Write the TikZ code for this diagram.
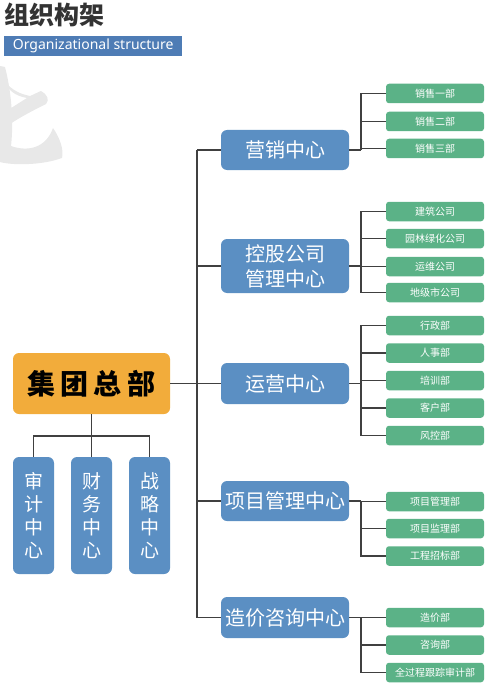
\documentclass[tikz,border=0pt]{standalone}
\usepackage{fontspec}
\setmainfont{Noto Sans CJK SC}
\newfontfamily\latinfont{Noto Sans}
\definecolor{hqorange}{HTML}{F2AC3B}
\definecolor{cblue}{HTML}{5B8FC3}
\definecolor{dgreen}{HTML}{5BB287}
\definecolor{titlegray}{HTML}{333333}
\definecolor{subblue}{HTML}{4E7CB5}
\definecolor{linegray}{HTML}{404040}
\definecolor{wmgray}{HTML}{E8E8E8}
\begin{document}
\begin{tikzpicture}[x=1pt,y=-1pt,
  centerbox/.style={fill=cblue, rounded corners=6pt, text=white, minimum width=128pt, inner sep=0pt, align=center, font=\fontsize{20}{25}\selectfont},
  subbox/.style={fill=dgreen, rounded corners=3pt, text=white, minimum width=98pt, minimum height=19.5pt, inner sep=0pt, font=\fontsize{10}{12}\selectfont},
  vbox/.style={fill=cblue, rounded corners=6pt, text=white, minimum width=41pt, minimum height=117pt, inner sep=0pt, align=center, font=\fontsize{19}{23}\selectfont},
  conn/.style={draw=linegray, line width=1.2pt}
]
\useasboundingbox (0,0) rectangle (493,687);
% watermark brush strokes
\fill[wmgray] (0,66) -- (5,67) .. controls (11,90) and (14,120) .. (11,146)
  .. controls (28,152) and (46,148) .. (53,128)
  .. controls (60,138) and (64,150) .. (62,158)
  .. controls (40,166) and (10,165) .. (0,162) -- cycle;
\fill[wmgray] (5,82) .. controls (12,90) and (20,94) .. (30,96)
  .. controls (35,94) and (38,92) .. (41,91)
  .. controls (47,94) and (50,100) .. (46,104)
  .. controls (30,112) and (15,120) .. (6,127)
  .. controls (4,120) and (4,114) .. (8,110)
  .. controls (16,105) and (22,101) .. (27,98)
  .. controls (15,96) and (8,90) .. (5,82) -- cycle;
% title
\node[anchor=west, inner sep=0pt, text=titlegray, font=\fontsize{25}{28}\selectfont\bfseries] (title) at (4,15) {组织构架};
\node[anchor=north west, fill=subblue, text=white, minimum width=178pt, minimum height=20pt, inner sep=0pt, font=\latinfont\fontsize{14}{16}\selectfont] (sub) at (4,36) {Organizational structure};
% HQ
\node[fill=hqorange, rounded corners=6pt, minimum width=157pt, minimum height=61pt, inner sep=0pt, font=\fontsize{28}{30}\selectfont\bfseries\addfontfeature{LetterSpace=18}] (hq) at (91.5,383.5) {集团总部};
% vertical boxes
\node[vbox] (v1) at (33.5,515.5) {审\\计\\中\\心};
\node[vbox] (v2) at (91.5,515.5) {财\\务\\中\\心};
\node[vbox] (v3) at (149.5,515.5) {战\\略\\中\\心};
\coordinate (vbar) at (0,436);
\draw[conn] (hq.south) -- (hq.south |- vbar);
\draw[conn] (v1.north) -- (v1.north |- vbar) -- (v3.north |- vbar) -- (v3.north);
\draw[conn] (v2.north) -- (v2.north |- vbar);
% center boxes
\node[centerbox, minimum height=40pt] (c1) at (285,150) {营销中心};
\node[centerbox, minimum height=54pt] (c2) at (285,266) {控股公司\\管理中心};
\node[centerbox, minimum height=41pt] (c3) at (285,383.5) {运营中心};
\node[centerbox, minimum height=40pt] (c4) at (285,501) {项目管理中心};
\node[centerbox, minimum height=41pt] (c5) at (285,617.5) {造价咨询中心};
% spine
\coordinate (spine) at (197,0);
\draw[conn] (spine |- c1.west) -- (spine |- c5.west);
\draw[conn] (hq.east) -- (hq.east -| spine);
\foreach \c in {c1,c2,c3,c4,c5} {
  \draw[conn] (\c.west) -- (\c.west -| spine);
}
% sub departments
\node[subbox] (g11) at (435,93.5) {销售一部};
\node[subbox] (g12) at (435,121.5) {销售二部};
\node[subbox] (g13) at (435,148.5) {销售三部};
\node[subbox] (g21) at (435,211.5) {建筑公司};
\node[subbox] (g22) at (435,238.5) {园林绿化公司};
\node[subbox] (g23) at (435,266.5) {运维公司};
\node[subbox] (g24) at (435,292.5) {地级市公司};
\node[subbox] (g31) at (435,325.5) {行政部};
\node[subbox] (g32) at (435,353) {人事部};
\node[subbox] (g33) at (435,380.5) {培训部};
\node[subbox] (g34) at (435,408) {客户部};
\node[subbox] (g35) at (435,435.5) {风控部};
\node[subbox] (g41) at (435,501.5) {项目管理部};
\node[subbox] (g42) at (435,528.5) {项目监理部};
\node[subbox] (g43) at (435,556) {工程招标部};
\node[subbox] (g51) at (435,617.5) {造价部};
\node[subbox] (g52) at (435,645) {咨询部};
\node[subbox] (g53) at (435,672.5) {全过程跟踪审计部};
\coordinate (bus) at (361,0);
\draw[conn] (c1.east) -- (c1.east -| bus);
\foreach \g in {g11,g12,g13} \draw[conn] (\g.west) -| (bus |- c1.east);
\draw[conn] (c2.east) -- (c2.east -| bus);
\foreach \g in {g21,g22,g23,g24} \draw[conn] (\g.west) -| (bus |- c2.east);
\draw[conn] (c3.east) -- (c3.east -| bus);
\foreach \g in {g31,g32,g33,g34,g35} \draw[conn] (\g.west) -| (bus |- c3.east);
\draw[conn] (c4.east) -- (c4.east -| bus);
\foreach \g in {g41,g42,g43} \draw[conn] (\g.west) -| (bus |- c4.east);
\draw[conn] (c5.east) -- (c5.east -| bus);
\foreach \g in {g51,g52,g53} \draw[conn] (\g.west) -| (bus |- c5.east);
\end{tikzpicture}
\end{document}
